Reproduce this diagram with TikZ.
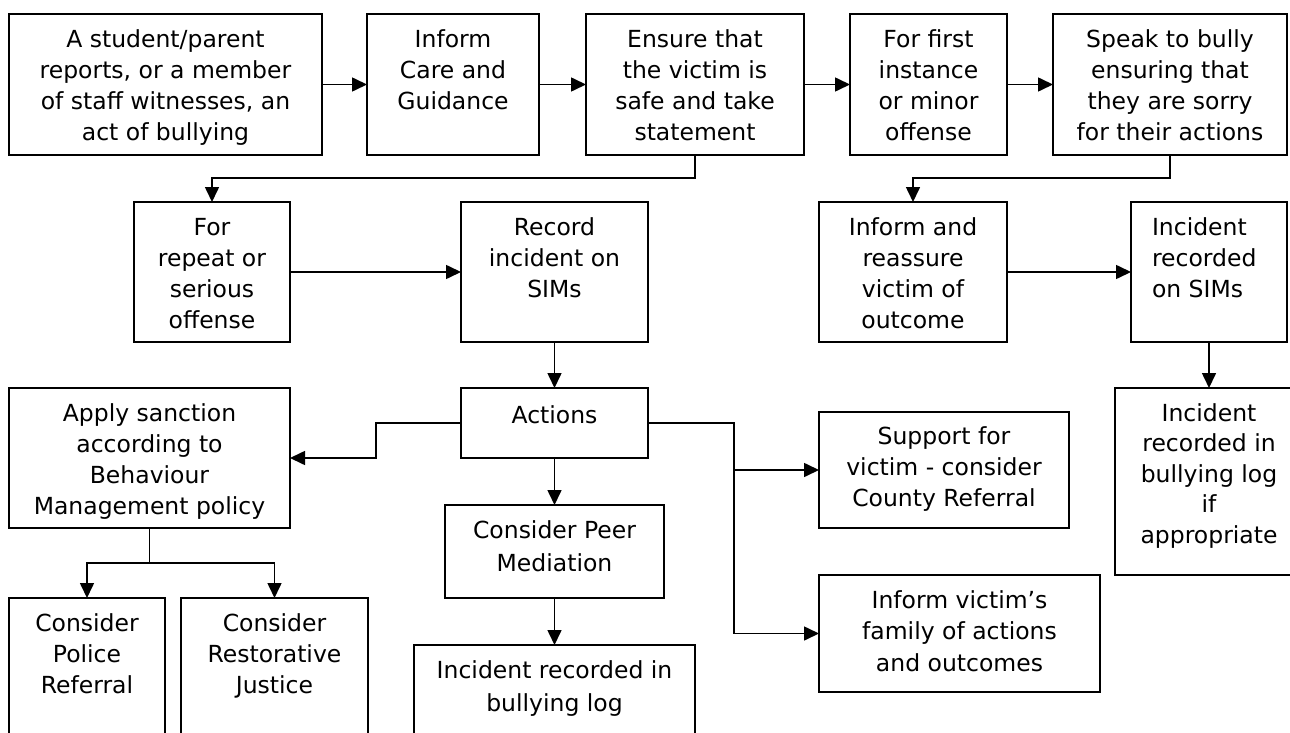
\documentclass[tikz,border=0pt]{standalone}
\usepackage{fontspec}
\setmainfont{DejaVu Sans}
\usetikzlibrary{arrows.meta}
\newcommand\bt[5][31]{\parbox[c][#3pt][t]{#2pt}{\fontsize{23.5}{#1}\selectfont\centering\vspace*{\dimexpr#4pt-0.7\baselineskip\relax}\strut#5}}
\newcommand\btl[5][31]{\parbox[c][#3pt][t]{#2pt}{\fontsize{23.5}{#1}\selectfont\raggedright\leftskip=21pt\vspace*{\dimexpr#4pt-0.7\baselineskip\relax}\strut#5}}
\tikzset{
  box/.style={draw, line width=1.6pt, inner sep=0pt, outer sep=0pt, fill=white},
  arr/.style={line width=1.6pt, -{Triangle[length=15pt,width=14pt]}}
}
\begin{document}
\begin{tikzpicture}[x=1pt,y=-1pt]
\useasboundingbox (0,0) rectangle (1290,733);
\clip (0,0) rectangle (1290,733);
% top row
\node[box] (A) at (165.5,84.5) {\bt{313}{141}{34}{A student/parent\\reports, or a member\\of staff witnesses, an\\act of bullying}};
\node[box] (B) at (453,84.5) {\bt{172}{141}{34}{Inform\\Care and\\Guidance}};
\node[box] (C) at (695,84.5) {\bt{218}{141}{34}{Ensure that\\the victim is\\safe and take\\statement}};
\node[box] (D) at (928.5,84.5) {\bt{157}{141}{34}{For first\\instance\\or minor\\offense}};
\node[box] (E) at (1170,84.5) {\bt{234}{141}{34}{Speak to bully\\ensuring that\\they are sorry\\for their actions}};
% second row
\node[box] (F) at (212,272) {\bt{156}{140}{33}{For\\repeat or\\serious\\offense}};
\node[box] (G) at (554.5,272) {\bt{187}{140}{33}{Record\\incident on\\SIMs}};
\node[box] (H) at (913,272) {\bt{188}{140}{33}{Inform and\\reassure\\victim of\\outcome}};
\node[box] (I) at (1209,272) {\btl{156}{140}{33}{Incident\\recorded\\on SIMs}};
% third row
\node[box] (J) at (149.5,458) {\bt{281}{140}{33}{Apply sanction\\according to\\Behaviour\\Management policy}};
\node[box] (K) at (554.5,423) {\bt{187}{70}{35}{Actions}};
\node[box] (L) at (944,470) {\bt{250}{116}{32}{Support for\\victim - consider\\County Referral}};
\node[box] (M) at (1209,481.5) {\bt[30.5]{188}{187}{33}{Incident\\recorded in\\bullying log\\if\\appropriate}};
\node[box] (N) at (554.5,551.5) {\bt[33]{219}{93}{33}{Consider Peer\\Mediation}};
\node[box] (O) at (554.5,695) {\bt[33]{281}{100}{33}{Incident recorded in\\bullying log}};
\node[box] (P) at (959.5,633.5) {\bt[31.5]{281}{117}{33}{Inform victim’s\\family of actions\\and outcomes}};
\node[box] (Q) at (87,671.5) {\bt{156}{147}{33}{Consider\\Police\\Referral}};
\node[box] (R) at (274.5,671.5) {\bt{187}{147}{33}{Consider\\Restorative\\Justice}};
% coordinates
\coordinate (cb) at (695,178);
\coordinate (eb) at (1170,178);
\coordinate (kl) at (376,423);
\coordinate (kr) at (734,423);
\coordinate (jb) at (149.5,563);
% connectors
\draw[arr] (A.east) -- (B.west);
\draw[arr] (B.east) -- (C.west);
\draw[arr] (C.east) -- (D.west);
\draw[arr] (D.east) -- (E.west);
\draw[arr] (C.south) -- (cb) -| (F.north);
\draw[arr] (E.south) -- (eb) -| (H.north);
\draw[arr] (F.east) -- (G.west);
\draw[arr] (H.east) -- (I.west);
\draw[arr] (G.south) -- (K.north);
\draw[arr] (I.south) -- (M.north);
\draw[arr] (K.west) -- (kl) |- (J.east);
\draw[arr] (K.east) -- (kr) |- (P.west);
\draw[arr] (kr |- L.west) -- (L.west);
\draw[arr] (K.south) -- (N.north);
\draw[arr] (N.south) -- (O.north);
\draw[arr] (J.south) -- (jb) -| (Q.north);
\draw[arr] (jb) -| (R.north);
\end{tikzpicture}
\end{document}
